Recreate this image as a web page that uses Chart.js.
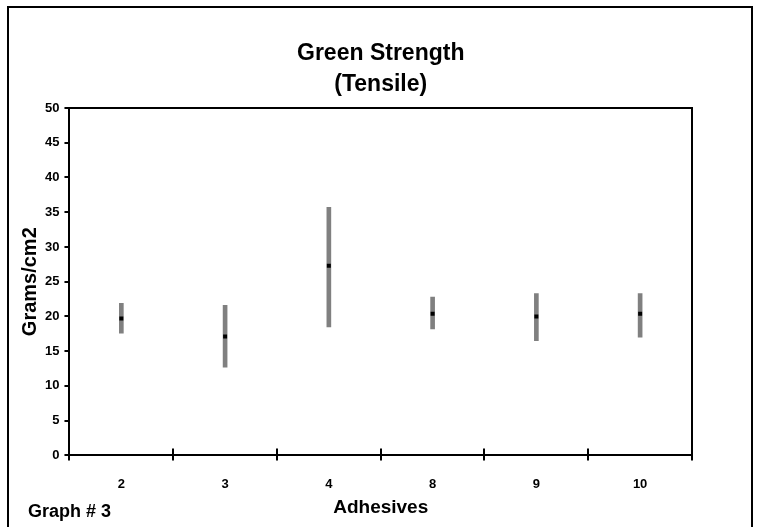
<!DOCTYPE html>
<html>
<head>
<meta charset="utf-8">
<script src="https://cdn.jsdelivr.net/npm/chart.js@4/dist/chart.umd.min.js"></script>
<style>
    html, body { margin: 0; padding: 0; background: #fff; }
    #wrap { width: 761px; height: 527px; position: relative; }
</style>
</head>
<body>
<div id="wrap"><canvas id="hlcChart" width="761" height="527"></canvas></div>
<script>
// Adhesive categories and tensile readings (Grams/cm2)
const adhesives = ['2', '3', '4', '8', '9', '10'];
const highValues = [21.9, 21.6, 35.7, 22.8, 23.3, 23.3];
const lowValues = [17.6, 12.7, 18.5, 18.2, 16.5, 17.0];
const closeValues = [19.7, 17.1, 27.3, 20.4, 20.0, 20.4];
const yTicks = [0, 5, 10, 15, 20, 25, 30, 35, 40, 45, 50];

const FONT = "'Liberation Sans', Arial, sans-serif";

// titles, frame on top/right of plot, crossing x ticks, outer border and footnote
const extrasPlugin = {
    id: 'extras',
    afterDraw(chart) {
        const { ctx, chartArea, scales } = chart;
        const x = scales.x;
        const midX = (chartArea.left + chartArea.right) / 2;
        ctx.save();
        ctx.strokeStyle = '#000';
        ctx.lineWidth = 2;
        ctx.beginPath();
        ctx.moveTo(chartArea.left, chartArea.top);
        ctx.lineTo(chartArea.right, chartArea.top);
        ctx.lineTo(chartArea.right, chartArea.bottom);
        ctx.stroke();

        // upper part of the category divider ticks
        const step = x.width / adhesives.length;
        ctx.beginPath();
        for (let i = 1; i <= adhesives.length; i++) {
            const px = Math.round(x.left + i * step);
            ctx.moveTo(px, chartArea.bottom - 7);
            ctx.lineTo(px, chartArea.bottom);
        }
        ctx.stroke();

        // outer border
        ctx.strokeRect(8, 7, 744, 540);

        ctx.fillStyle = '#000';
        ctx.textBaseline = 'alphabetic';
        ctx.textAlign = 'center';
        ctx.font = 'bold 23px ' + FONT;
        ctx.fillText('Green Strength', midX, 60);
        ctx.fillText('(Tensile)', midX, 91);

        ctx.font = 'bold 19px ' + FONT;
        ctx.fillText('Adhesives', midX, 513);

        ctx.textAlign = 'left';
        ctx.font = 'bold 18px ' + FONT;
        ctx.fillText('Graph # 3', 28, 517);
        ctx.restore();
    }
};

new Chart(document.getElementById('hlcChart'), {
    type: 'bar',
    data: {
        labels: adhesives,
        datasets: [{
            label: 'High-Low',
            data: lowValues.map((low, i) => [low, highValues[i]]),
            backgroundColor: '#808080',
            borderWidth: 0,
            barThickness: 4,
            order: 2
        }, {
            type: 'line',
            label: 'Close',
            data: closeValues,
            showLine: false,
            pointStyle: 'rect',
            pointRadius: 2.83,
            pointBorderWidth: 0,
            pointBackgroundColor: '#000',
            order: 1
        }]
    },
    plugins: [extrasPlugin],
    options: {
        responsive: false,
        animation: false,
        layout: {
            padding: { left: 20, right: 69, top: 108, bottom: 19 }
        },
        plugins: {
            legend: { display: false },
            tooltip: { enabled: false },
            title: { display: false }
        },
        scales: {
            y: {
                min: 0,
                max: 50,
                afterBuildTicks: (scale) => {
                    scale.ticks = yTicks.map(v => ({ value: v }));
                },
                ticks: {
                    color: '#000',
                    padding: 5,
                    font: { family: FONT, size: 13, weight: 'bold' }
                },
                grid: {
                    drawOnChartArea: false,
                    tickLength: 5,
                    color: '#000',
                    lineWidth: 2
                },
                border: { display: true, color: '#000', width: 2 },
                title: {
                    display: true,
                    text: 'Grams/cm2',
                    color: '#000',
                    font: { family: FONT, size: 20, weight: 'bold', lineHeight: 1.0 },
                    padding: { top: 0, bottom: 0 }
                }
            },
            x: {
                offset: true,
                ticks: {
                    color: '#000',
                    padding: 16,
                    font: { family: FONT, size: 13, weight: 'bold' }
                },
                grid: {
                    offset: true,
                    drawOnChartArea: false,
                    tickLength: 5,
                    color: '#000',
                    lineWidth: 2
                },
                border: { display: true, color: '#000', width: 2 }
            }
        }
    }
});
</script>
</body>
</html>
